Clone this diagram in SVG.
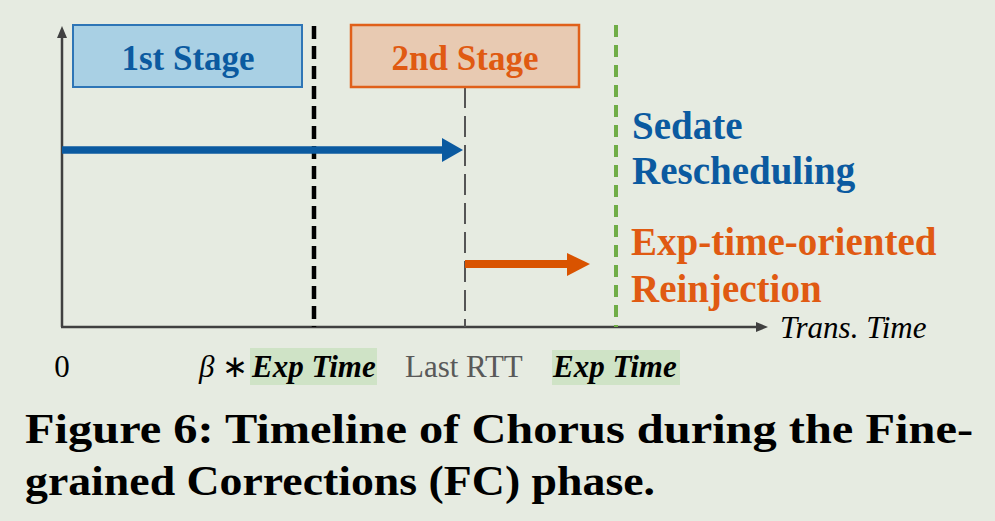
<svg xmlns="http://www.w3.org/2000/svg" width="995" height="521" viewBox="0 0 995 521">
<style>
.serif{font-family:"Liberation Serif","Times New Roman",serif}
.stage{font-family:"Liberation Serif","Times New Roman",serif;font-weight:bold;font-size:35px;text-anchor:middle}
.lbl{font-family:"Liberation Serif","Times New Roman",serif;font-weight:bold;font-size:39px}
.tick{font-family:"Liberation Serif","Times New Roman",serif;font-size:31px}
.cap{font-family:"Liberation Serif","Times New Roman",serif;font-weight:bold;font-size:42px;fill:#000}
.axis{stroke:#404040;stroke-width:2.5;fill:none}
</style>
<rect x="0" y="0" width="995" height="521" fill="#e6ebe1"/>
<g id="axes">
<line class="axis" x1="62" y1="327" x2="62" y2="34"/>
<polygon points="62,26 57,38 67,38" fill="#404040"/>
<line class="axis" x1="61" y1="327" x2="760" y2="327"/>
<polygon points="768,327 756,322 756,332" fill="#404040"/>
</g>
<g id="guides">
<line x1="314" y1="26" x2="314" y2="327" stroke="#000" stroke-width="4.5" stroke-dasharray="13,7"/>
<line x1="465" y1="87" x2="465" y2="327" stroke="#555" stroke-width="2" stroke-dasharray="21,8"/>
<line x1="616" y1="25" x2="616" y2="327" stroke="#70ad47" stroke-width="4" stroke-dasharray="12,8"/>
</g>
<g id="stage1">
<rect x="73" y="25" width="229" height="62" fill="#a9d0e4" stroke="#2e75b6" stroke-width="2"/>
<text class="stage" x="188" y="70" fill="#0b5aa0">1st Stage</text>
</g>
<g id="stage2">
<rect x="351" y="25" width="228" height="62" fill="#e8cab2" stroke="#e0601a" stroke-width="2.5"/>
<text class="stage" x="465" y="70" fill="#e05a12">2nd Stage</text>
</g>
<g id="connectors">
<line x1="62" y1="150" x2="444" y2="150" stroke="#0b5aa0" stroke-width="7.5"/>
<polygon points="463,150 442,138 442,162" fill="#0b5aa0"/>
<line x1="465" y1="264" x2="569" y2="264" stroke="#d95300" stroke-width="8"/>
<polygon points="590,264 567,253 567,276" fill="#d95300"/>
</g>
<g id="sedate">
<text class="lbl" x="632" y="139" fill="#0b5aa0">Sedate</text>
<text class="lbl" x="632" y="184" fill="#0b5aa0">Rescheduling</text>
</g>
<g id="reinjection">
<text class="lbl" x="631" y="255" fill="#e05a12">Exp-time-oriented</text>
<text class="lbl" x="631" y="302" fill="#e05a12">Reinjection</text>
</g>
<g id="xlabel">
<text class="serif" x="780" y="338" font-style="italic" font-size="31" fill="#000">Trans. Time</text>
</g>
<g id="ticks">
<text class="tick" x="62" y="377" text-anchor="middle" fill="#000">0</text>
<rect x="250" y="348" width="127" height="37" fill="#cfe3c6"/>
<text class="tick" x="199" y="377" fill="#000"><tspan font-style="italic">β</tspan> ∗ </text>
<text class="tick" x="252" y="377" font-weight="bold" font-style="italic" fill="#000">Exp Time</text>
<text class="tick" x="405" y="377" fill="#595959">Last RTT</text>
<rect x="552" y="350" width="128" height="35" fill="#cfe3c6"/>
<text class="tick" x="553" y="377" font-weight="bold" font-style="italic" fill="#000">Exp Time</text>
</g>
<g id="caption">
<text class="cap" x="25" y="443" textLength="948" lengthAdjust="spacingAndGlyphs">Figure 6: Timeline of Chorus during the Fine-</text>
<text class="cap" x="25" y="495" textLength="630" lengthAdjust="spacingAndGlyphs">grained Corrections (FC) phase.</text>
</g>
</svg>
